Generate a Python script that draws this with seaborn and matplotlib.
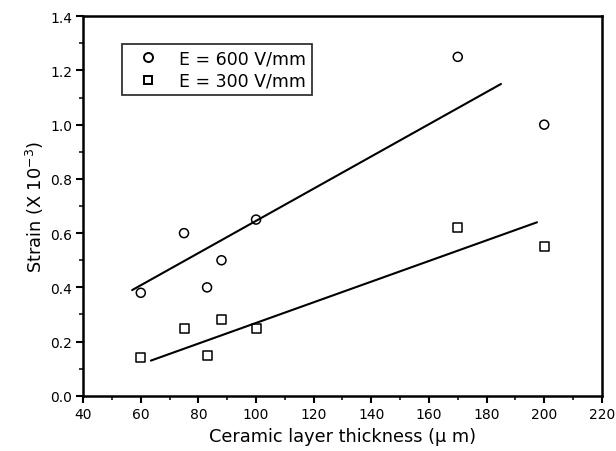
import matplotlib
matplotlib.use("Agg")
import matplotlib.pyplot as plt
import seaborn as sns
import pandas as pd
from matplotlib.ticker import MultipleLocator, FormatStrFormatter
from matplotlib.lines import Line2D

thickness = [60, 75, 83, 88, 100, 170, 200]
strain_600 = [0.38, 0.60, 0.40, 0.50, 0.65, 1.25, 1.00]
strain_300 = [0.14, 0.25, 0.15, 0.28, 0.25, 0.62, 0.55]

fit600_x = [57, 185]
fit600_y = [0.39, 1.15]
fit300_x = [63.5, 197.5]
fit300_y = [0.13, 0.64]

labels = ["E = 600 V/mm", "E = 300 V/mm"]

sns.set_theme(style="white")
plt.rcParams['font.family'] = ['DejaVu Sans']
plt.rcParams['mathtext.fontset'] = 'dejavusans'
plt.rcParams['text.color'] = 'black'
plt.rcParams['axes.labelcolor'] = 'black'
plt.rcParams['legend.labelcolor'] = 'black'

df = pd.DataFrame({
    "x": thickness + thickness,
    "y": strain_600 + strain_300,
    "E": [labels[0]] * len(thickness) + [labels[1]] * len(thickness),
})

fig = plt.figure(figsize=(6.16, 4.52), dpi=100)
ax = fig.add_axes([0.135, 0.122, 0.842, 0.840])

sns.scatterplot(data=df, x="x", y="y", style="E", markers={labels[0]: "o", labels[1]: "s"},
                color="black", s=42, ax=ax, legend=False)
for coll in ax.collections:
    coll.set_facecolor("none")
    coll.set_edgecolor("black")
    coll.set_linewidth(1.1)

sns.lineplot(x=fit600_x, y=fit600_y, color="black", lw=1.5, ax=ax)
sns.lineplot(x=fit300_x, y=fit300_y, color="black", lw=1.5, ax=ax)

ax.set_xlim(40, 220)
ax.set_ylim(0, 1.4)
ax.xaxis.set_major_locator(MultipleLocator(20))
ax.xaxis.set_minor_locator(MultipleLocator(10))
ax.yaxis.set_major_locator(MultipleLocator(0.2))
ax.yaxis.set_minor_locator(MultipleLocator(0.1))
ax.yaxis.set_major_formatter(FormatStrFormatter("%.1f"))

for s in ax.spines.values():
    s.set_color("black")
    s.set_linewidth(1.8)

ax.tick_params(axis="both", which="major", direction="out", length=5, width=1.5,
               labelsize=10, colors="black", bottom=True, left=True, top=False, right=False, pad=3)
ax.tick_params(axis="both", which="minor", direction="out", length=3, width=1.3,
               bottom=True, left=True, top=False, right=False)

ax.set_xlabel("Ceramic layer thickness (\u03bc m)", fontsize=12.8, color="black", labelpad=4)
ax.set_ylabel("Strain (X 10$^{-3}$)", fontsize=12.8, color="black", labelpad=3)

handles = [Line2D([], [], marker="o", ls="none", mfc="none", mec="black", ms=6.5, mew=1.4),
           Line2D([], [], marker="s", ls="none", mfc="none", mec="black", ms=6, mew=1.4)]
leg = ax.legend(handles, labels, loc="upper left", bbox_to_anchor=(0.075, 0.926),
                fontsize=12.5, frameon=True, fancybox=False, edgecolor="black",
                handletextpad=0.6, borderpad=0.3, labelspacing=0.25, handlelength=2.4,
                borderaxespad=0, labelcolor="black")
leg.get_frame().set_linewidth(1.3)

fig.savefig("out.png", dpi=100)
